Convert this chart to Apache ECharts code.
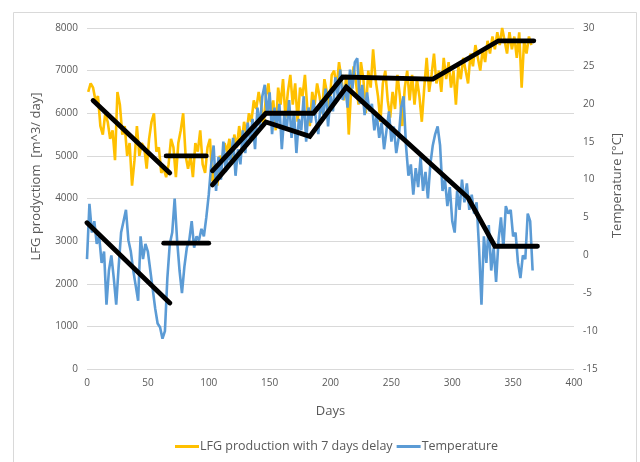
<!DOCTYPE html>
<html>
<head>
<meta charset="utf-8">
<script src="https://cdn.jsdelivr.net/npm/echarts@6/dist/echarts.min.js"></script>
<style>
html,body{margin:0;padding:0;background:#fff;}
#chart{width:640px;height:462px;}
</style>
</head>
<body>
<div id="chart"></div>
<script>
// LFG production (m^3/day), every 2nd day starting at day 1
const prodStartDay = 1, prodStep = 2;
const production = [
 6500,6700,6600,6300,6400,5700,5500,6000,5800,5400,
 5600,4900,6500,6200,5500,5700,5000,5300,4300,4900,
 5700,5000,5300,5200,4700,5400,5800,6000,5100,5200,
 4600,4700,4500,4800,5400,5200,4500,5300,5600,6000,
 5000,4700,5000,4500,5300,5100,5600,4800,4600,5200,
 5400,4400,4800,4300,5000,4900,5300,5100,5400,4800,
 5500,5200,5700,5300,5800,5500,6000,5800,6300,6100,
 6500,6200,5700,6400,6700,6000,6300,5600,6600,6200,
 6800,5900,6500,6900,6200,6700,5800,6600,6400,6900,
 6100,5700,6500,6200,6700,6400,6000,6800,6500,6100,
 6900,7000,6600,7200,6800,6300,6900,5500,6600,7100,
 6700,6200,7200,6800,6000,7000,6600,7500,6800,6400,
 5800,6700,7000,6300,5900,6500,6100,6900,6400,5700,
 6600,7000,6300,6900,6200,6800,6400,5800,6600,7300,
 6500,6900,7400,6700,7000,6500,7300,6800,7200,6600,
 7000,6200,7100,6800,7300,7000,6700,7400,7100,7600,
 7300,7000,7500,7200,7700,7400,7800,7500,7900,7600,
 8000,7700,7400,7900,7500,7800,7300,7900,6600,7700,
 7400,7800,7600
];
// Temperature (°C), every 2nd day starting at day 0
const tempStartDay = 0, tempStep = 2;
const temperature = [
 -0.5,6.8,3.0,4.5,1.5,2.5,-1.0,0.5,-6.5,-2.0,
 0.0,-3.0,-6.5,-1.5,3.0,4.5,6.0,2.0,0.5,-2.0,
 -4.0,-6.0,2.5,-0.5,1.5,0.5,-2.0,-4.5,-7.0,-9.0,
 -9.5,-11.0,-10.0,-3.0,1.5,3.0,7.5,2.0,-2.0,-5.0,
 -1.5,1.0,2.0,4.5,1.0,2.5,2.0,3.5,2.5,5.0,
 8.0,12.0,14.5,8.5,13.0,10.0,15.0,11.0,13.5,12.5,
 15.5,10.5,14.0,12.0,16.5,13.5,17.5,15.0,18.0,14.0,
 19.5,17.0,21.0,22.5,18.5,21.5,16.0,19.5,17.0,20.0,
 14.0,18.5,16.5,20.5,15.5,19.0,13.5,18.0,16.5,21.0,
 15.0,19.5,17.5,20.5,18.0,16.0,20.5,18.5,22.0,17.0,
 21.0,19.0,23.5,21.0,24.5,20.5,22.5,19.5,24.5,22.0,
 25.5,26.0,20.0,22.5,18.5,21.5,19.0,20.0,16.5,18.5,
 15.5,17.5,14.0,16.5,19.0,15.0,17.0,13.5,15.5,19.5,
 21.0,14.5,10.5,12.0,8.0,11.5,9.0,13.0,8.5,11.0,
 7.5,12.0,14.5,16.0,17.0,14.5,8.5,10.0,6.5,9.0,
 4.5,3.0,8.5,6.0,10.0,7.0,9.5,6.0,8.0,5.5,
 7.0,1.0,-6.5,2.5,-1.0,4.0,-2.0,1.0,-3.5,2.0,
 5.0,1.0,6.5,5.5,6.0,2.5,3.0,-1.0,-3.0,0.0,
 -0.5,5.5,4.5,-2.0
];
// Trend segments (day, value)
const prodTrend1 = [[5,6300],[68,4600]];
const prodTrend2 = [[65,5000],[98,5000]];
const prodTrend3 = [[103,4650],[147,6000],[186,6000],[210,6850],[284,6800],[338,7700],[367,7700]];
const tempTrend1 = [[0,4.3],[68,-6.3]];
const tempTrend2 = [[63,1.6],[100,1.6]];
const tempTrend3 = [[103,9.3],[147,17.6],[183,15.7],[213,22.2],[313,7.6],[335,1.2],[370,1.2]];
const seriesNames = ['LFG production with 7 days delay','Temperature'];

const prodData = production.map((v,i)=>[prodStartDay+i*prodStep, v]);
const tempData = temperature.map((v,i)=>[tempStartDay+i*tempStep, v]);

const FONT = 'Open Sans';
const GRAY = '#595959';
const chart = echarts.init(document.getElementById('chart'));
function trend(data, yi){
  return {type:'line', data:data, yAxisIndex:yi, symbol:'none', silent:true,
    lineStyle:{color:'#000', width:4.8, cap:'round', join:'miter'}, z:5, animation:false};
}
chart.setOption({
  animation:false,
  backgroundColor:'#fff',
  textStyle:{fontFamily:FONT},
  graphic:[{type:'rect', shape:{x:13.5,y:12.5,width:623,height:460},
    style:{fill:'none', stroke:'#d9d9d9', lineWidth:1}, silent:true}],
  grid:{left:87, right:66, top:28, bottom:93},
  legend:{data:seriesNames, bottom:4, left:170, itemWidth:24, itemHeight:3, itemGap:4,
    icon:'rect', textStyle:{color:GRAY, fontSize:12.5, fontFamily:FONT, padding:[0,0,0,-4]}},
  xAxis:{type:'value', min:0, max:400, interval:50, name:'Days', nameLocation:'middle', nameGap:36,
    nameTextStyle:{color:GRAY, fontSize:13, fontFamily:FONT},
    axisLine:{show:false}, axisTick:{show:false},
    axisLabel:{color:GRAY, fontSize:10, margin:9, fontFamily:FONT},
    splitLine:{show:false}},
  yAxis:[
    {type:'value', min:0, max:8000, interval:1000, name:'LFG prodyctiom  [m^3/ day]',
     nameLocation:'middle', nameGap:44,
     nameTextStyle:{color:GRAY, fontSize:13, fontFamily:FONT, padding:[0,0,0,44]},
     axisLine:{show:false}, axisTick:{show:false},
     axisLabel:{color:GRAY, fontSize:10, margin:9, fontFamily:FONT, formatter:(v)=>String(v)},
     splitLine:{lineStyle:{color:'#d9d9d9', width:1}}},
    {type:'value', min:-15, max:30, interval:5, name:'Temperature [°C]', position:'right',
     nameLocation:'middle', nameGap:37,
     nameTextStyle:{color:GRAY, fontSize:13, fontFamily:FONT, padding:[0,0,0,26]},
     axisLine:{show:false}, axisTick:{show:false},
     axisLabel:{color:GRAY, fontSize:10, margin:9, fontFamily:FONT},
     splitLine:{show:false}}
  ],
  series:[
    {name:seriesNames[0], type:'line', data:prodData, yAxisIndex:0, symbol:'none',
     lineStyle:{color:'#FFC000', width:2.6}, itemStyle:{color:'#FFC000'}, z:2},
    {name:seriesNames[1], type:'line', data:tempData, yAxisIndex:1, symbol:'none',
     lineStyle:{color:'#5B9BD5', width:2.6}, itemStyle:{color:'#5B9BD5'}, z:3},
    trend(prodTrend1,0), trend(prodTrend2,0), trend(prodTrend3,0),
    trend(tempTrend1,1), trend(tempTrend2,1), trend(tempTrend3,1)
  ]
});
</script>
</body>
</html>
